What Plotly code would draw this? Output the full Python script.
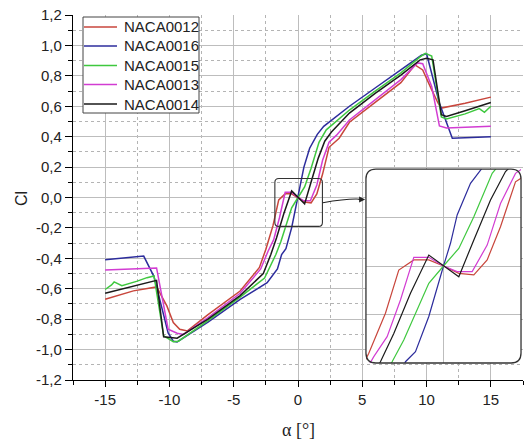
import plotly.graph_objects as go

# ---------------- data ----------------
alpha_0012 = [-15, -12.8, -11, -10.2, -9.7, -9.2, -8.6, -7, -4.5, -3.0, -2.505, -1.946, -1.499, -0.995,
              -0.492, 0, 0.514, 1.018, 1.465, 1.912, 2.415, 3.2, 4, 6, 8, 9.1, 9.7, 10.4, 10.9, 11.15, 13, 15]
cl_0012 = [-0.669, -0.614, -0.588, -0.713, -0.822, -0.866, -0.877, -0.77, -0.615, -0.46, -0.342, -0.185,
           -0.016, 0.024, 0.024, 0, -0.029, -0.035, 0.024, 0.154, 0.330, 0.39, 0.495, 0.625, 0.755, 0.872,
           0.839, 0.708, 0.62, 0.588, 0.62, 0.66]

alpha_0016 = [-15, -12, -11.2, -10.1, -9.7, -9.4, -7, -4.5, -2.4, -1.6, -1.275, -0.939, -0.492, -0.212, 0,
              0.235, 0.459, 0.906, 1.186, 1.5, 2.0, 4, 6, 8, 9.6, 10, 11, 12, 15]
cl_0016 = [-0.41, -0.385, -0.52, -0.89, -0.945, -0.95, -0.82, -0.67, -0.56, -0.47, -0.375, -0.336, -0.198,
           -0.081, 0, 0.089, 0.200, 0.324, 0.370, 0.415, 0.468, 0.60, 0.72, 0.84, 0.935, 0.945, 0.62, 0.39, 0.40]

alpha_0015 = [-15, -14.5, -14.3, -13.7, -12.5, -11.75, -11.2, -10.45, -9.7, -9.3, -7, -4.5, -2.6, -2.0,
              -1.722, -1.331, -0.883, -0.492, 0, 0.514, 1.018, 1.633, 2.2, 4, 6, 8, 9.5, 9.9, 10.4, 11.15,
              11.55, 13, 14.1, 14.5, 15]
cl_0015 = [-0.605, -0.575, -0.555, -0.58, -0.55, -0.527, -0.516, -0.91, -0.948, -0.945, -0.81, -0.655, -0.53,
           -0.43, -0.375, -0.290, -0.172, -0.068, 0, 0.069, 0.193, 0.363, 0.445, 0.575, 0.70, 0.82, 0.925,
           0.948, 0.93, 0.53, 0.516, 0.55, 0.585, 0.56, 0.60]

alpha_0013 = [-15, -11, -10.1, -9.4, -8.9, -7, -4.5, -2.9, -2.337, -1.890, -1.443, -0.995, -0.492, 0, 0.459,
              0.962, 1.465, 1.912, 2.415, 3.0, 4, 6, 8, 9.3, 9.7, 10.4, 11.0, 11.55, 15]
cl_0013 = [-0.477, -0.463, -0.866, -0.892, -0.9, -0.79, -0.63, -0.47, -0.355, -0.277, -0.133, 0.034, 0.034, 0,
           -0.022, -0.022, 0.082, 0.245, 0.363, 0.41, 0.51, 0.645, 0.775, 0.885, 0.88, 0.73, 0.47, 0.457, 0.468]

alpha_0014 = [-15, -13, -11.75, -11, -10.45, -9.4, -7, -4.5, -2.7, -2.114, -1.666, -1.107, -0.492, 0, 0.514,
              1.018, 1.577, 2.08, 2.6, 4, 6, 8, 9.5, 10.0, 10.5, 11.15, 11.55, 13, 15]
cl_0014 = [-0.63, -0.59, -0.56, -0.545, -0.916, -0.925, -0.80, -0.645, -0.50, -0.375, -0.264, -0.107, 0.043,
           0, -0.042, 0.102, 0.259, 0.370, 0.43, 0.555, 0.685, 0.805, 0.905, 0.915, 0.905, 0.544, 0.533, 0.57,
           0.625]

series_names = ["NACA0012", "NACA0016", "NACA0015", "NACA0013", "NACA0014"]
series_alpha = [alpha_0012, alpha_0016, alpha_0015, alpha_0013, alpha_0014]
series_cl = [cl_0012, cl_0016, cl_0015, cl_0013, cl_0014]
series_colors = ["#c8463c", "#2c2c9c", "#3fc83f", "#d23cd2", "#1a1a1a"]

x_tickvals = [-15, -10, -5, 0, 5, 10, 15]
x_ticktext = ["-15", "-10", "-5", "0", "5", "10", "15"]
y_tickvals = [-1.2, -1.0, -0.8, -0.6, -0.4, -0.2, 0.0, 0.2, 0.4, 0.6, 0.8, 1.0, 1.2]
y_ticktext = ["-1,2", "-1,0", "-0,8", "-0,6", "-0,4", "-0,2", "0,0", "0,2", "0,4", "0,6", "0,8", "1,0", "1,2"]

# ---------------- layout constants ----------------
W, H = 524, 440
ML, MR, MT, MB = 73, 1, 15, 60
X_RANGE = [-17.5, 17.5]
Y_RANGE = [-1.2, 1.2]
IN_X = [-2.6, 2.6]
IN_Y = [-0.38, 0.38]
IN_DOM_X = [0.651, 0.9956]
IN_DOM_Y = [0.0466, 0.578]
BOX_X = [-1.8, 1.9]
BOX_Y = [-0.19, 0.125]

FONT = "Liberation Sans, Arial, sans-serif"
TXT = "#222222"
GRID = "#bdbdbd"
MINOR_GRID = "#b4b4b4"

pw = W - ML - MR
ph = H - MT - MB


def px2x(px):
    return (px - ML) / pw


def px2y(py):
    return (H - MB - py) / ph


def rrect(x0, x1, y0, y1, rx, ry):
    return (f"M{x0+rx},{y0} L{x1-rx},{y0} Q{x1},{y0} {x1},{y0+ry} "
            f"L{x1},{y1-ry} Q{x1},{y1} {x1-rx},{y1} L{x0+rx},{y1} "
            f"Q{x0},{y1} {x0},{y1-ry} L{x0},{y0+ry} Q{x0},{y0} {x0+rx},{y0} Z")


fig = go.Figure()

for name, xs, ys, col in zip(series_names, series_alpha, series_cl, series_colors):
    fig.add_trace(go.Scatter(x=xs, y=ys, mode="lines", name=name, showlegend=False,
                             line=dict(color=col, width=1.5), xaxis="x", yaxis="y"))

for name, xs, ys, col in zip(series_names, series_alpha, series_cl, series_colors):
    fig.add_trace(go.Scatter(x=xs, y=ys, mode="lines", name=name, showlegend=False,
                             line=dict(color=col, width=1.2), xaxis="x2", yaxis="y2"))

in_w = (IN_DOM_X[1] - IN_DOM_X[0]) * pw
in_h = (IN_DOM_Y[1] - IN_DOM_Y[0]) * ph
rad = 10

shapes = [
    # white background of the inset (drawn in the inset subplot, below its grid)
    dict(type="path", xref="x2", yref="y2", layer="below",
         path=rrect(IN_X[0], IN_X[1], IN_Y[0], IN_Y[1],
                    rad * (IN_X[1] - IN_X[0]) / in_w, rad * (IN_Y[1] - IN_Y[0]) / in_h),
         fillcolor="white", line=dict(width=0)),
    # inset border
    dict(type="path", xref="paper", yref="paper", layer="above",
         path=rrect(IN_DOM_X[0], IN_DOM_X[1], IN_DOM_Y[0], IN_DOM_Y[1], rad / pw, rad / ph),
         line=dict(color="#333333", width=1.3)),
    # small zoom box on main plot
    dict(type="path", xref="x", yref="y", layer="above",
         path=rrect(BOX_X[0], BOX_X[1], BOX_Y[0], BOX_Y[1],
                    4 * (X_RANGE[1] - X_RANGE[0]) / pw, 4 * (Y_RANGE[1] - Y_RANGE[0]) / ph),
         line=dict(color="#333333", width=1.1)),
    # curved arrow line
    dict(type="path", xref="x", yref="y", layer="above",
         path=f"M{BOX_X[1]+0.03},-0.035 Q4.08,-0.002 5.1,-0.013",
         line=dict(color="#222222", width=1.1)),
]

annotations = [
    dict(x=5.22, y=-0.013, xref="x", yref="y", ax=-8, ay=0, text="", showarrow=True,
         arrowhead=2, arrowsize=1, arrowwidth=1.2, arrowcolor="#222222", standoff=0),
    dict(x=px2x(22), y=px2y(199), xref="paper", yref="paper", text="Cl", showarrow=False,
         textangle=-90, font=dict(family=FONT, size=16, color=TXT),
         xanchor="center", yanchor="middle"),
    dict(x=px2x(298), y=px2y(430), xref="paper", yref="paper", text="α [°]", showarrow=False,
         font=dict(family="Liberation Serif, Times New Roman, serif", size=18, color=TXT),
         xanchor="center", yanchor="middle"),
]

# legend drawn as box + line samples + text (to match the compact original spacing)
LEG_X0, LEG_X1, LEG_Y0, LEG_Y1 = 83, 199, 17, 113
row_y = [27, 46, 65.5, 84.5, 104]
shapes.append(dict(type="rect", xref="paper", yref="paper", layer="above",
                   x0=px2x(LEG_X0), x1=px2x(LEG_X1), y0=px2y(LEG_Y1), y1=px2y(LEG_Y0),
                   fillcolor="white", line=dict(color="#444444", width=1)))
for name, col, ry in zip(series_names, series_colors, row_y):
    shapes.append(dict(type="line", xref="paper", yref="paper", layer="above",
                       x0=px2x(LEG_X0 + 1), x1=px2x(117), y0=px2y(ry), y1=px2y(ry),
                       line=dict(color=col, width=1.5)))
    annotations.append(dict(x=px2x(122), y=px2y(ry), xref="paper", yref="paper", text=name,
                            showarrow=False, xanchor="left", yanchor="middle",
                            font=dict(family=FONT, size=15, color=TXT)))

fig.update_layout(
    width=W, height=H,
    margin=dict(l=ML, r=MR, t=MT, b=MB),
    paper_bgcolor="white", plot_bgcolor="rgba(0,0,0,0)",
    font=dict(family=FONT, size=15, color=TXT),
    showlegend=False,
    xaxis=dict(range=X_RANGE, tickmode="array", tickvals=x_tickvals, ticktext=x_ticktext,
               ticks="outside", ticklen=6, tickwidth=1, tickcolor="black",
               showline=True, linecolor="black", linewidth=1.2,
               showgrid=True, gridcolor=GRID, gridwidth=1, zeroline=False,
               tickfont=dict(family=FONT, size=15, color=TXT),
               minor=dict(tickmode="linear", tick0=0, dtick=2.5, ticks="outside", ticklen=4,
                          tickcolor="black", showgrid=True, gridcolor=MINOR_GRID, gridwidth=1,
                          griddash="dot"),
               anchor="y", domain=[0, 1]),
    yaxis=dict(range=Y_RANGE, tickmode="array", tickvals=y_tickvals, ticktext=y_ticktext,
               ticks="outside", ticklen=7, tickwidth=1, tickcolor="black",
               showline=True, linecolor="black", linewidth=1.2,
               showgrid=True, gridcolor=GRID, gridwidth=1, zeroline=False,
               tickfont=dict(family=FONT, size=15, color=TXT),
               minor=dict(tickmode="linear", tick0=0, dtick=0.1, ticks="outside", ticklen=4,
                          tickcolor="black", showgrid=True, gridcolor=MINOR_GRID, gridwidth=1,
                          griddash="dot"),
               anchor="x", domain=[0, 1]),
    xaxis2=dict(range=IN_X, domain=IN_DOM_X, anchor="y2", showticklabels=False, ticks="",
                showline=False, zeroline=False, tickmode="array", tickvals=[0],
                showgrid=True, gridcolor=GRID, gridwidth=1),
    yaxis2=dict(range=IN_Y, domain=IN_DOM_Y, anchor="x2", showticklabels=False, ticks="",
                showline=False, zeroline=False, tickmode="array",
                tickvals=[-(IN_Y[1]) / 2, 0, IN_Y[1] / 2],
                showgrid=True, gridcolor=GRID, gridwidth=1),
    shapes=shapes,
    annotations=annotations,
)

fig.write_html("out.html")
